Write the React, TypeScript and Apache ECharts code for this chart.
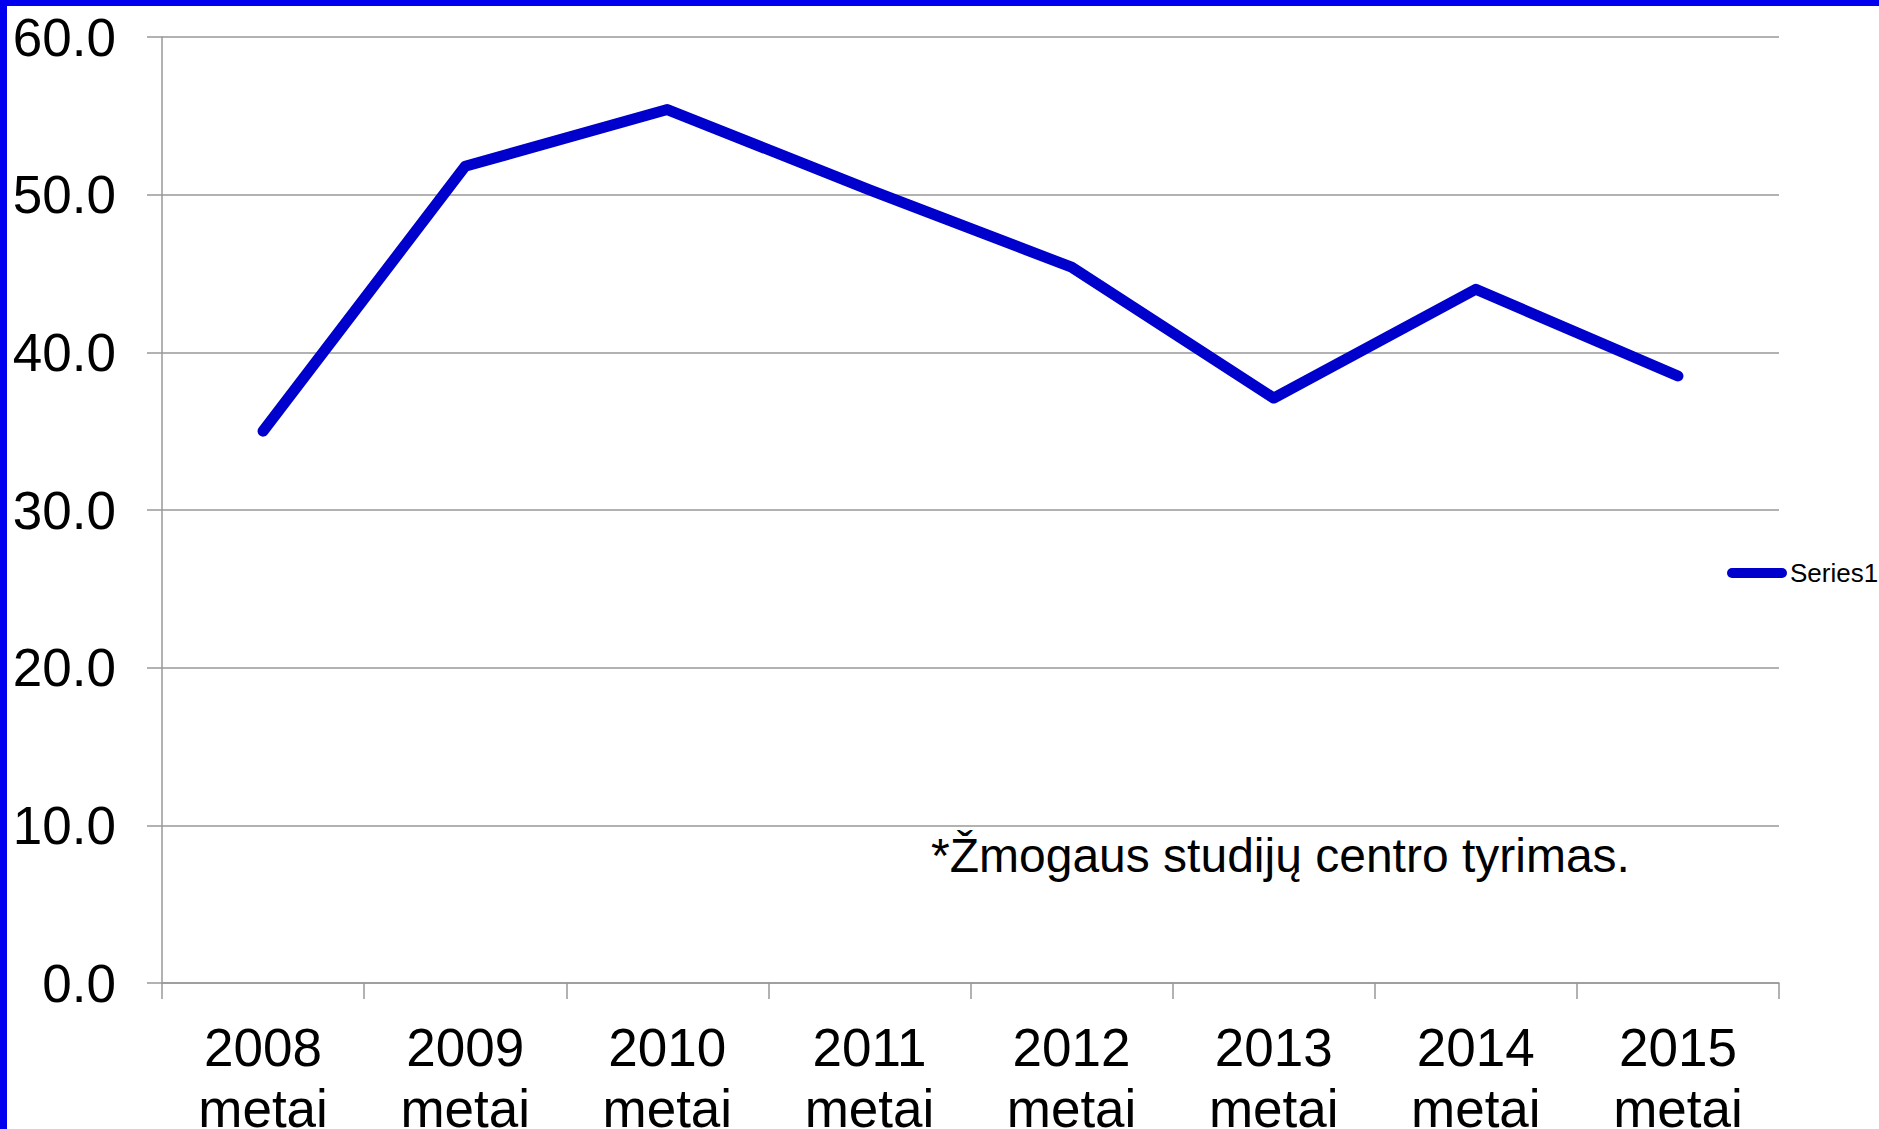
import React, { useEffect, useRef } from "react";
import * as echarts from "echarts";

const categories = ["2008\nmetai", "2009\nmetai", "2010\nmetai", "2011\nmetai", "2012\nmetai", "2013\nmetai", "2014\nmetai", "2015\nmetai"];
const series1 = [35.0, 51.8, 55.4, 50.3, 45.4, 37.1, 44.0, 38.5];
const seriesName = "Series1";
const note = "*Žmogaus studijų centro tyrimas.";

const FONT = "'Liberation Sans', Arial, Helvetica, sans-serif";

export default function App() {
  const ref = useRef<HTMLDivElement>(null);
  useEffect(() => {
    document.body.style.margin = "0";
    const chart = echarts.init(ref.current!, null, { renderer: "svg" });
    chart.setOption({
      animation: false,
      backgroundColor: "#ffffff",
      textStyle: { fontFamily: FONT },
      grid: { left: 162, top: 37, right: 100, bottom: 146, containLabel: false, outerBoundsMode: "none" },
      xAxis: {
        type: "category",
        data: categories,
        boundaryGap: true,
        axisLine: { show: true, lineStyle: { color: "#999999", width: 1.5 } },
        axisTick: { show: true, length: 16, lineStyle: { color: "#999999", width: 1.5 } },
        axisLabel: {
          fontSize: 53,
          lineHeight: 61,
          color: "#000000",
          margin: 34,
          fontFamily: FONT,
          interval: 0,
        },
        splitLine: { show: false },
      },
      yAxis: {
        type: "value",
        min: 0,
        max: 60,
        interval: 10,
        axisLine: { show: true, lineStyle: { color: "#999999", width: 1.5 } },
        axisTick: { show: true, length: 15, lineStyle: { color: "#999999", width: 1.5 } },
        axisLabel: {
          fontSize: 53,
          color: "#000000",
          margin: 46,
          fontFamily: FONT,
          formatter: (v: number) => v.toFixed(1),
        },
        splitLine: { show: true, lineStyle: { color: "#999999", width: 1.5 } },
      },
      legend: {
        show: true,
        data: [seriesName],
        orient: "vertical",
        left: 1727,
        top: 560,
        itemWidth: 60,
        itemHeight: 10,
        itemGap: 0,
        icon: "path://M5,0 H55 A5,5 0 0 1 55,10 H5 A5,5 0 0 1 5,0 Z",
        textStyle: { fontSize: 26, color: "#000000", fontFamily: FONT, padding: [0, 0, 0, -2] },
        padding: 0,
      },
      graphic: [
        { type: "rect", left: 0, top: 0, shape: { width: 1879, height: 6 }, style: { fill: "#0000EE" }, z: 100 },
        { type: "rect", left: 0, top: 0, shape: { width: 7, height: 1129 }, style: { fill: "#0000EE" }, z: 100 },
        {
          type: "text",
          left: 931,
          top: 831,
          style: { text: note, fontSize: 48, fill: "#000000", fontFamily: FONT },
          z: 50,
        },
      ],
      series: [
        {
          name: seriesName,
          type: "line",
          data: series1,
          showSymbol: false,
          symbol: "none",
          lineStyle: { color: "#0000CC", width: 11, cap: "round", join: "round" },
          itemStyle: { color: "#0000CC" },
        },
      ],
    });
    return () => chart.dispose();
  }, []);
  return <div ref={ref} style={{ width: 1879, height: 1129 }} />;
}
